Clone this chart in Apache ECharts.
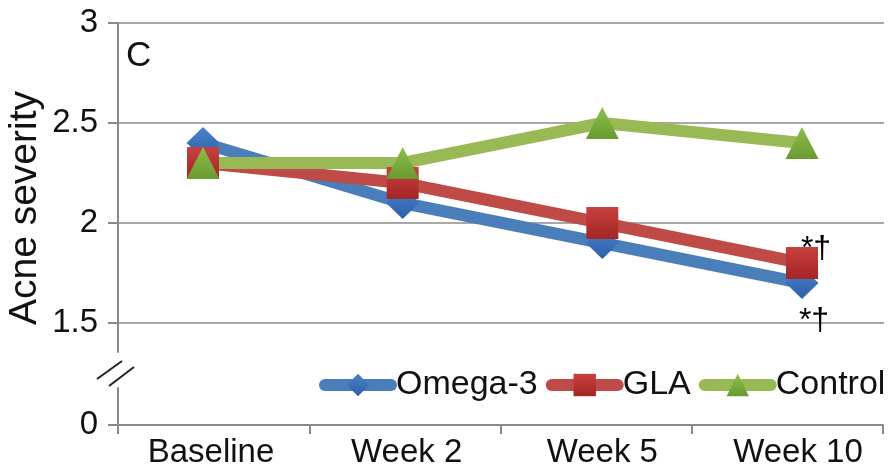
<!DOCTYPE html>
<html>
<head>
<meta charset="utf-8">
<script src="https://cdn.jsdelivr.net/npm/echarts@6/dist/echarts.min.js"></script>
<style>html,body{margin:0;padding:0;background:#fff}#c{width:891px;height:469px}</style>
</head>
<body>
<div id="c"></div>
<script>
const categories = ['Baseline', 'Week 2', 'Week 5', 'Week 10'];
const seriesNames = ['Omega-3', 'GLA', 'Control'];
const omega3 = [2.4, 2.1, 1.9, 1.7];
const gla = [2.3, 2.2, 2.0, 1.8];
const control = [2.3, 2.3, 2.5, 2.4];
const omega3Marks = ['', '', '', '*†'];
const glaMarks = ['', '', '', '*†'];
const upperMin = 1.5, upperMax = 3, upperStep = 0.5;
const lowerTicks = [0];
const yTitle = 'Acne severity';
const panelLetter = 'C';

const FONT = "'Liberation Sans', Arial, sans-serif";
const TXT = '#111';
const AXC = '#8a8a8a';
const GRC = '#a8a8a8';

function grad(top, bottom) {
  return new echarts.graphic.LinearGradient(0, 0, 0, 1, [
    { offset: 0, color: top }, { offset: 1, color: bottom }
  ]);
}
function withMarks(vals, marks, offset) {
  return vals.map((v, i) => marks[i] ? {
    value: v,
    label: { show: true, formatter: marks[i], position: 'inside', offset: offset,
      fontSize: 32, fontFamily: FONT, color: '#000' }
  } : v);
}

const chart = echarts.init(document.getElementById('c'), null, { renderer: 'canvas' });
chart.setOption({
  animation: false,
  backgroundColor: '#fff',
  textStyle: { fontFamily: FONT },
  grid: [
    { left: 118, right: 7, top: 23, height: 300 },          // frame
    { left: 203, right: 89, top: 23, height: 300 },         // data (points at edges)
    { left: 118, width: 10, top: 323, height: 29 },         // axis stub
    { left: 118, right: 8, top: 388, height: 37 },          // lower axis
    { left: 211, right: 93, top: 388, height: 37 }          // lower labels
  ],
  xAxis: [
    { gridIndex: 0, type: 'category', data: categories, show: false },
    { gridIndex: 1, type: 'category', data: categories, show: false, boundaryGap: false },
    { gridIndex: 2, type: 'category', data: categories, show: false },
    { gridIndex: 3, type: 'category', data: categories,
      axisLine: { lineStyle: { color: AXC, width: 2 } },
      axisTick: { show: true, length: 9, lineStyle: { color: AXC, width: 2 } },
      axisLabel: { show: false } },
    { gridIndex: 4, type: 'category', data: categories, boundaryGap: false,
      axisLine: { show: false }, axisTick: { show: false },
      axisLabel: { fontSize: 33, color: TXT, margin: 12, fontFamily: FONT } }
  ],
  yAxis: [
    { gridIndex: 0, type: 'value', min: upperMin, max: upperMax, interval: upperStep,
      axisLine: { show: true, lineStyle: { color: AXC, width: 2 } },
      axisTick: { show: true, length: 10, lineStyle: { color: AXC, width: 2 } },
      axisLabel: { fontSize: 33, color: TXT, margin: 20, fontFamily: FONT },
      splitLine: { show: true, lineStyle: { color: GRC, width: 2 } } },
    { gridIndex: 1, type: 'value', min: upperMin, max: upperMax, show: false },
    { gridIndex: 2, type: 'value', min: 0, max: 1,
      axisLine: { show: true, lineStyle: { color: AXC, width: 2 } },
      axisTick: { show: false }, axisLabel: { show: false }, splitLine: { show: false } },
    { gridIndex: 3, type: 'value', min: 0, max: 1,
      axisLine: { show: true, lineStyle: { color: AXC, width: 2 } },
      axisTick: { show: true, length: 10, customValues: lowerTicks, lineStyle: { color: AXC, width: 2 } },
      axisLabel: { customValues: lowerTicks, fontSize: 33, color: TXT, margin: 20, fontFamily: FONT },
      splitLine: { show: false } },
    { gridIndex: 4, type: 'value', min: 0, max: 1, show: false }
  ],
  legend: {
    data: seriesNames,
    left: 314, top: 363, width: 700,
    itemWidth: 66, itemHeight: 28, itemGap: 8,
    textStyle: { fontSize: 34, color: TXT, fontFamily: FONT },
    lineStyle: { width: 12, cap: 'round' }
  },
  series: [
    { name: seriesNames[0], type: 'line', xAxisIndex: 1, yAxisIndex: 1,
      data: withMarks(omega3, omega3Marks, [12, 38]),
      symbol: 'diamond', symbolSize: [33, 32],
      lineStyle: { color: '#4A7EBB', width: 12 },
      itemStyle: { color: grad('#4A82CC', '#2E5EA8') } },
    { name: seriesNames[1], type: 'line', xAxisIndex: 1, yAxisIndex: 1,
      data: withMarks(gla, glaMarks, [14, -14]),
      symbol: 'rect', symbolSize: 32,
      lineStyle: { color: '#BE4B48', width: 12 },
      itemStyle: { color: grad('#C8413F', '#A32524') } },
    { name: seriesNames[2], type: 'line', xAxisIndex: 1, yAxisIndex: 1,
      data: control,
      symbol: 'triangle', symbolSize: [33, 32],
      lineStyle: { color: '#98B954', width: 12 },
      itemStyle: { color: grad('#8DC04C', '#699A30') } }
  ],
  graphic: [
    { type: 'text', left: 126, top: 39,
      style: { text: panelLetter, fontSize: 35, fontFamily: FONT, fill: TXT } },
    { type: 'text', x: 25, y: 208, rotation: Math.PI / 2,
      style: { text: yTitle, fontSize: 39, fontFamily: FONT, fill: TXT,
        align: 'center', verticalAlign: 'middle' } },
    { type: 'line', shape: { x1: 97, y1: 379, x2: 122, y2: 361 },
      style: { stroke: '#222', lineWidth: 2 } },
    { type: 'line', shape: { x1: 109, y1: 386, x2: 134, y2: 367 },
      style: { stroke: '#222', lineWidth: 2 } }
  ]
});
</script>
</body>
</html>
